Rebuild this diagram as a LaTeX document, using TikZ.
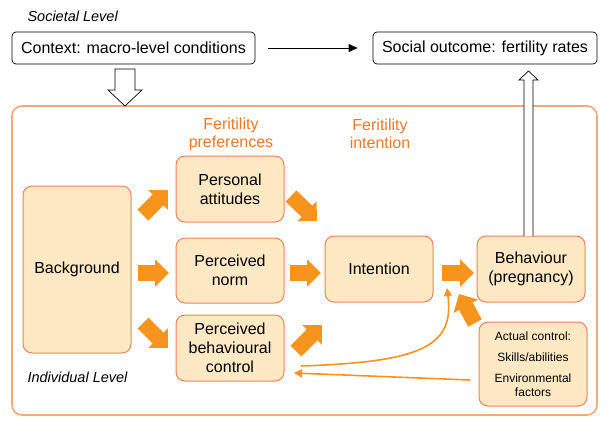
\documentclass[tikz,border=0pt]{standalone}
\usepackage{fontspec}
\setmainfont{Liberation Sans}
\usetikzlibrary{arrows.meta}
\definecolor{boxfill}{HTML}{FDE8C4}
\definecolor{boxline}{HTML}{F0825A}
\definecolor{outerline}{HTML}{F5A878}
\definecolor{arrorange}{HTML}{F7941D}
\definecolor{titleorange}{HTML}{E8792A}
\tikzset{
  box/.style={draw=boxline, fill=boxfill, rounded corners=9pt, line width=1pt,
    align=center, font=\fontsize{16}{19}\selectfont, inner sep=0pt,
    minimum width=108pt, minimum height=66pt},
  topbox/.style={draw=black, rounded corners=4pt, line width=0.7pt,
    font=\fontsize{16}{19}\selectfont, inner sep=0pt, minimum height=32pt},
  blockarrow/.style={line width=15.5pt, draw=arrorange, fill=arrorange,
    -{Triangle[length=14pt,width=27pt]}},
  thinarrow/.style={draw=arrorange, line width=1.6pt,
    -{Triangle[length=8pt,width=8pt]}},
  title/.style={text=titleorange, align=center, font=\fontsize{16}{18}\selectfont},
  levellabel/.style={anchor=west, font=\fontsize{14.5}{16}\selectfont\itshape},
  hollow/.style={draw=black, fill=white, line width=0.7pt, line join=miter}
}
\begin{document}
\begin{tikzpicture}[x=1pt,y=-1pt]
\useasboundingbox (0,0) rectangle (608,426);
% societal level
\node[levellabel] (soc) at (24,16) {Societal Level};
\node[topbox, minimum width=243pt] (ctx) at (133.5,48) {Context: macro-level conditions};
\node[topbox, minimum width=224pt] (out) at (485,48) {Social outcome: fertility rates};
\draw[line width=0.8pt, -{Triangle[length=9pt,width=8pt]}, shorten <=13pt, shorten >=15pt] (ctx.east) -- (out.west);
% outer individual box
\draw[draw=outerline, line width=1.6pt, rounded corners=10pt] (12,106) rectangle (597,415);
% hollow down arrow
\draw[hollow] (115,69) -- (135,69) -- (135,90) -- (142,90) -- (125,106) -- (108,90) -- (115,90) -- cycle;
% titles
\node[title] (tpref) at (231,134) {Feritility\\preferences};
\node[title] (tint) at (380,134) {Feritility\\intention};
% boxes
\node[box, minimum height=167pt] (bg) at (77,269.5) {Background};
\node[box] (pa) at (230,189) {Personal\\attitudes};
\node[box, minimum height=65pt] (pn) at (230,270.5) {Perceived\\norm};
\node[box] (pbc) at (230,348) {Perceived\\behavioural\\control};
\node[box] (int) at (379,269) {Intention};
\node[box] (beh) at (531,269) {Behaviour\\(pregnancy)};
\node[box, minimum height=84pt, font=\fontsize{12}{14}\selectfont] (act) at (533,364)
  {Actual control:\\[7pt]Skills/abilities\\[7pt]Environmental\\factors};
\node[levellabel] (ind) at (24,377) {Individual Level};
% hollow up arrow
\draw[hollow] (524,236) -- (524,80) -- (519,80) -- (528.5,71) -- (538,80) -- (533,80) -- (533,236);
% block arrows
\coordinate (a1s) at (143,215); \coordinate (a1e) at (168,190);
\coordinate (a2s) at (138,273); \coordinate (a2e) at (169,273);
\coordinate (a3s) at (143,323); \coordinate (a3e) at (168,348);
\coordinate (a4s) at (291,196); \coordinate (a4e) at (317,221);
\coordinate (a5s) at (290,273); \coordinate (a5e) at (321,273);
\coordinate (a6s) at (296,351); \coordinate (a6e) at (322,325);
\coordinate (a7s) at (442,273); \coordinate (a7e) at (474,273);
\coordinate (a8s) at (475,323); \coordinate (a8e) at (459,294);
\draw[blockarrow] (a1s) -- (a1e);
\draw[blockarrow] (a2s) -- (a2e);
\draw[blockarrow] (a3s) -- (a3e);
\draw[blockarrow] (a4s) -- (a4e);
\draw[blockarrow] (a5s) -- (a5e);
\draw[blockarrow] (a6s) -- (a6e);
\draw[blockarrow] (a7s) -- (a7e);
\draw[blockarrow] (a8s) -- (a8e);
% thin arrows
\coordinate (c1s) at (301,366); \coordinate (c1e) at (447,288);
\draw[thinarrow] (c1s) .. controls (425,362) and (454,345) .. (c1e);
\coordinate (c2s) at (470,380); \coordinate (c2e) at (294,373);
\draw[thinarrow] (c2s) -- (c2e);
\end{tikzpicture}
\end{document}
